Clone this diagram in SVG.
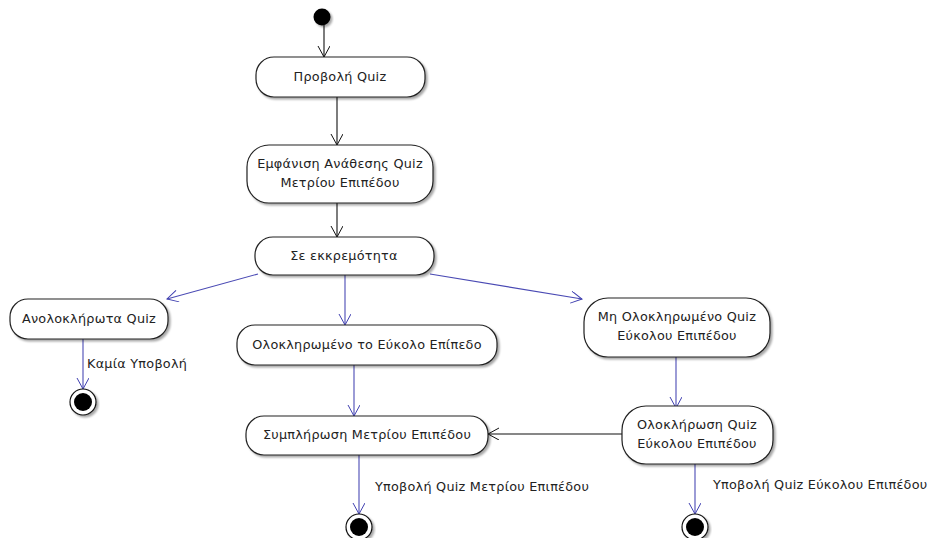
<svg xmlns="http://www.w3.org/2000/svg" width="937" height="538" viewBox="0 0 937 538">
  <defs>
    <filter id="shadow" x="-10%" y="-20%" width="125%" height="150%">
      <feGaussianBlur in="SourceAlpha" stdDeviation="1.2"/>
      <feOffset dx="2" dy="2" result="b"/>
      <feComponentTransfer><feFuncA type="linear" slope="0.35"/></feComponentTransfer>
      <feMerge><feMergeNode/><feMergeNode in="SourceGraphic"/></feMerge>
    </filter>
    <marker id="arrBlack" markerUnits="userSpaceOnUse" markerWidth="16" markerHeight="16" refX="12" refY="6" orient="auto">
      <path d="M1,0 L12,6 L1,12" fill="none" stroke="#111" stroke-width="1"/>
    </marker>
    <marker id="arrBlue" markerUnits="userSpaceOnUse" markerWidth="16" markerHeight="16" refX="12" refY="6" orient="auto">
      <path d="M1,0 L12,6 L1,12" fill="none" stroke="#4040b0" stroke-width="1"/>
    </marker>
  </defs>
  <style>
    .act { fill: #ffffff; stroke: #222; stroke-width: 1.2; filter: url(#shadow); }
    .lbl { font-family: "DejaVu Sans", "Liberation Sans", sans-serif; font-size: 12.8px; letter-spacing: 0.25px; fill: #222; }
    .c { text-anchor: middle; }
    .blk { stroke: #111; stroke-width: 1.1; fill: none; marker-end: url(#arrBlack); }
    .blu { stroke: #4a4ab4; stroke-width: 1.1; fill: none; marker-end: url(#arrBlue); }
    .fin-o { fill: #fff; stroke: #111; stroke-width: 1.2; filter: url(#shadow); }
    .fin-i { fill: #000; }
  </style>

  <rect width="937" height="538" fill="#ffffff"/>

  <!-- connectors -->
  <g id="connectors">
    <line class="blk" x1="324" y1="25" x2="324" y2="57"/>
    <line class="blk" x1="337" y1="97" x2="337" y2="145"/>
    <line class="blk" x1="337" y1="203" x2="337" y2="237"/>
    <line class="blu" x1="258" y1="274" x2="167" y2="299"/>
    <line class="blu" x1="345" y1="275" x2="345" y2="325"/>
    <line class="blu" x1="430" y1="274" x2="582" y2="299"/>
    <line class="blu" x1="83" y1="339" x2="83" y2="389"/>
    <line class="blu" x1="354" y1="365" x2="354" y2="416"/>
    <line class="blu" x1="676" y1="357" x2="676" y2="408"/>
    <line class="blk" x1="623" y1="434" x2="488" y2="434"/>
    <line class="blu" x1="359" y1="455" x2="359" y2="514"/>
    <line class="blu" x1="695" y1="464" x2="695" y2="514"/>
    <text class="lbl" x="87" y="368">Καμία Υποβολή</text>
    <text class="lbl" x="375" y="491">Υποβολή Quiz Μετρίου Επιπέδου</text>
    <text class="lbl" x="713" y="489">Υποβολή Quiz Εύκολου Επιπέδου</text>
  </g>

  <g id="start">
    <circle cx="322" cy="17" r="8.5" fill="#000" filter="url(#shadow)"/>
  </g>

  <g id="provoli">
    <rect class="act" x="256" y="57" width="169" height="40" rx="18" ry="18"/>
    <text class="lbl c" x="340" y="81">Προβολή Quiz</text>
  </g>

  <g id="emfanisi">
    <rect class="act" x="247" y="145" width="186" height="58" rx="22" ry="22"/>
    <text class="lbl c" x="340" y="168">Εμφάνιση Ανάθεσης Quiz</text>
    <text class="lbl c" x="340" y="187">Μετρίου Επιπέδου</text>
  </g>

  <g id="ekkremotita">
    <rect class="act" x="255" y="237" width="179" height="38" rx="18" ry="18"/>
    <text class="lbl c" x="344" y="260">Σε εκκρεμότητα</text>
  </g>

  <g id="anolokl">
    <rect class="act" x="10" y="299" width="158" height="40" rx="18" ry="18"/>
    <text class="lbl c" x="89" y="323">Ανολοκλήρωτα Quiz</text>
  </g>

  <g id="olokl-eukolo">
    <rect class="act" x="237" y="325" width="260" height="40" rx="18" ry="18"/>
    <text class="lbl c" x="367" y="349">Ολοκληρωμένο το Εύκολο Επίπεδο</text>
  </g>

  <g id="mi-olokl">
    <rect class="act" x="584" y="298" width="186" height="59" rx="24" ry="24"/>
    <text class="lbl c" x="677" y="321">Μη Ολοκληρωμένο Quiz</text>
    <text class="lbl c" x="677" y="340">Εύκολου Επιπέδου</text>
  </g>

  <g id="symplirosi">
    <rect class="act" x="246" y="416" width="242" height="39" rx="18" ry="18"/>
    <text class="lbl c" x="367" y="439">Συμπλήρωση Μετρίου Επιπέδου</text>
  </g>

  <g id="oloklirosi">
    <rect class="act" x="622" y="406" width="151" height="58" rx="24" ry="24"/>
    <text class="lbl c" x="697" y="429">Ολοκλήρωση Quiz</text>
    <text class="lbl c" x="697" y="448">Εύκολου Επιπέδου</text>
  </g>

  <g id="end-none">
    <circle class="fin-o" cx="83" cy="402" r="13"/>
    <circle class="fin-i" cx="83" cy="402" r="9"/>
  </g>

  <g id="end-medium">
    <circle class="fin-o" cx="359" cy="527" r="13"/>
    <circle class="fin-i" cx="359" cy="527" r="9"/>
  </g>

  <g id="end-easy">
    <circle class="fin-o" cx="695" cy="527" r="13"/>
    <circle class="fin-i" cx="695" cy="527" r="9"/>
  </g>
</svg>
